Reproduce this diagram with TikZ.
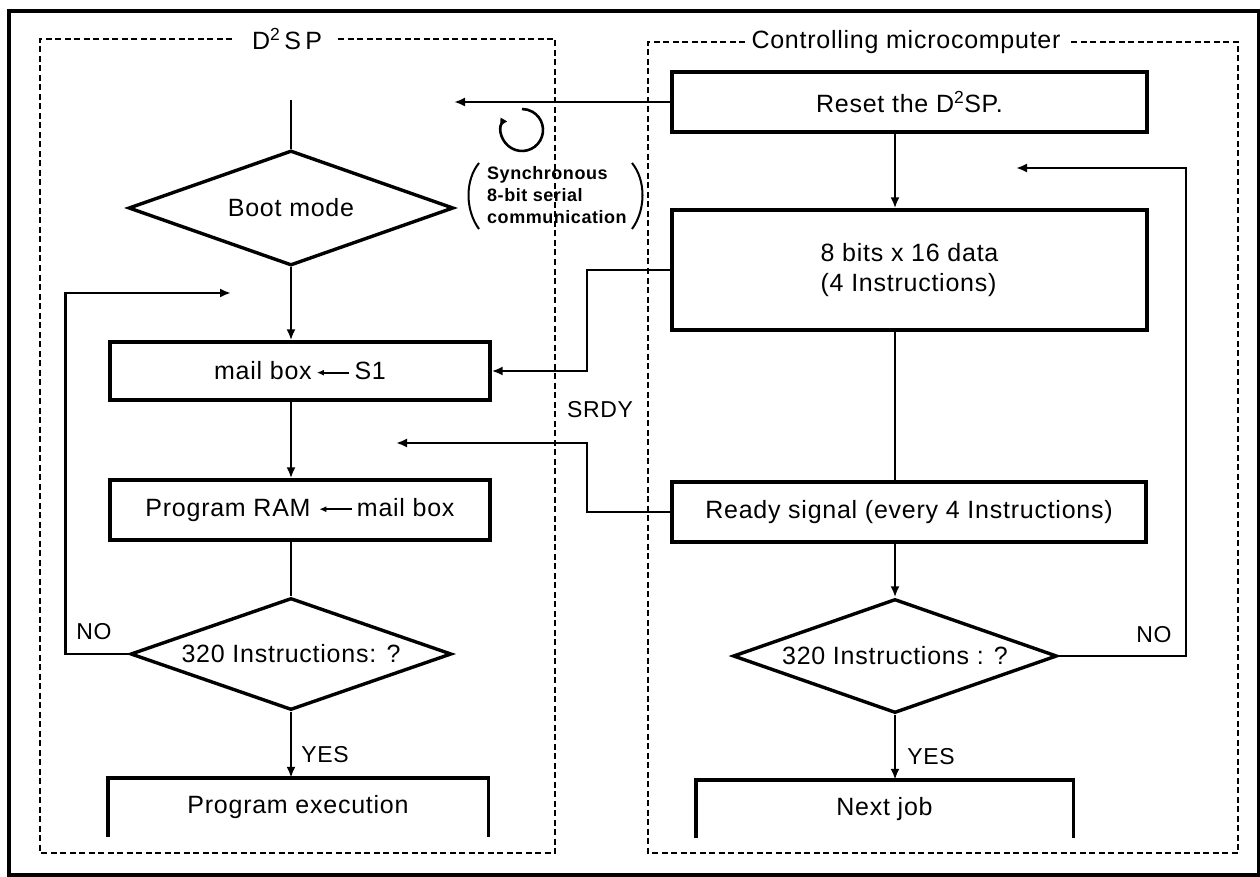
\documentclass[tikz,border=0pt]{standalone}
\usepackage{fontspec}
\setmainfont{Liberation Sans}[LetterSpace=3]
\usetikzlibrary{shapes.geometric,arrows.meta}
\newcommand{\lar}{\tikz[baseline=-0.55ex]\draw[line width=2pt,-{Latex[length=7pt,width=6pt]}] (1.3em,0)--(0,0);}
\begin{document}
\begin{tikzpicture}[x=1pt,y=1pt,font=\fontsize{25}{30}\selectfont,
  box/.style={rectangle, draw, line width=3.4pt, inner sep=0pt},
  openbox/.style={rectangle, inner sep=0pt},
  boxline/.style={line width=3.4pt},
  dia/.style={diamond, draw, line width=3.4pt, inner sep=0pt, shape aspect=2.85},
  flow/.style={line width=2.8pt},
  arr/.style={flow, -{Latex[length=11pt,width=9pt]}},
  region/.style={line width=2.2pt, dash pattern=on 6pt off 3.5pt},
  lab/.style={font=\fontsize{23}{26}\selectfont, inner sep=0pt},
  small/.style={font=\bfseries\fontsize{18}{22}\selectfont, inner sep=0pt, align=left}]
\path[use as bounding box] (0,0) rectangle (1260,-877);
% outer frame
\draw[line width=4pt] (9,-11) rectangle (1259,-875);
% regions
\draw[region] (232,-39) -- (40,-39) -- (40,-853) -- (555,-853) -- (555,-39) -- (338,-39);
\node[inner sep=0pt] (ttlL) at (287,-39) {D\textsuperscript{2}\,S\,P};
\draw[region] (745,-42) -- (648,-42) -- (648,-853) -- (1238,-853) -- (1238,-42) -- (1068,-42);
\node[inner sep=0pt] (ttlR) at (906,-42) {Controlling microcomputer};
% left flow
\coordinate (start) at (291,-100);
\node[dia, minimum width=325pt, minimum height=115pt] (boot) at (291,-208) {Boot mode};
\node[box, minimum width=380pt, minimum height=58pt] (mailbox) at (300,-371) {mail box\,\lar\,S1};
\node[box, minimum width=380pt, minimum height=60pt] (pram) at (300,-510) {Program RAM \lar\,mail box};
\node[dia, minimum width=321pt, minimum height=112pt] (ldiam) at (291,-654) {320 Instructions: ?};
\node[openbox, minimum width=380pt, minimum height=59pt] (pexec) at (298,-807.5) {Program execution};
\draw[boxline] (pexec.south west) -- (pexec.north west) -- (pexec.north east) -- (pexec.south east);
\coordinate (lret) at (231,-293);
\draw[flow] (start) -- (boot.north);
\draw[arr] (boot.south) -- (boot.south |- mailbox.north);
\draw[arr] (boot.south |- mailbox.south) -- (boot.south |- pram.north);
\draw[flow] (ldiam.north |- pram.south) -- (ldiam.north);
\draw[arr] (ldiam.south) -- (ldiam.south |- pexec.north);
\draw[arr] (ldiam.west) -- ++(-63,0) |- (lret);
\node[lab] (noL) at (94,-632) {NO};
\node[lab] (yesL) at (325,-755) {YES};
% right flow
\node[box, minimum width=475pt, minimum height=60pt] (reset) at (909.5,-102) {Reset the D\textsuperscript{2}SP.};
\node[box, minimum width=475pt, minimum height=120pt, align=left] (data) at (909.5,-270) {8 bits x 16 data\\(4 Instructions)};
\node[box, minimum width=474pt, minimum height=60pt] (ready) at (909,-512) {Ready signal (every 4 Instructions)};
\node[dia, minimum width=324pt, minimum height=114pt] (rdiam) at (895,-656) {320 Instructions : ?};
\node[openbox, minimum width=377pt, minimum height=58pt] (next) at (884.5,-809) {Next job};
\draw[boxline] (next.south west) -- (next.north west) -- (next.north east) -- (next.south east);
\coordinate (rret) at (1016,-168);
\draw[arr] (reset.south -| rdiam.north) -- (data.north -| rdiam.north);
\draw[flow] (data.south -| rdiam.north) -- (ready.north -| rdiam.north);
\draw[arr] (ready.south -| rdiam.north) -- (rdiam.north);
\draw[arr] (rdiam.south) -- (rdiam.south |- next.north);
\draw[arr] (rdiam.east) -- (1186,-656) |- (rret);
\node[lab] (noR) at (1154,-635) {NO};
\node[lab] (yesR) at (931,-757) {YES};
% cross connections
\coordinate (resetend) at (454,-102);
\draw[arr] (reset.west) -- (resetend);
\draw[arr] (data.west) -- (587,-270) |- (mailbox.east);
\coordinate (srdyend) at (396,-443);
\draw[arr] (ready.west) -- (587,-512) |- (srdyend);
\node[lab] (srdy) at (600,-410) {SRDY};
% serial communication note
\draw[line width=2.6pt, {Latex[reversed,length=9pt,width=8pt]}-] (522,-130) ++(150:21) arc[start angle=150, end angle=450, radius=21];
\node[small, anchor=west] (sync) at (487,-195) {Synchronous\\8-bit serial\\communication};
\draw[line width=2pt] (479,-163) .. controls (465,-180) and (465,-210) .. (479,-229);
\draw[line width=2pt] (632,-163) .. controls (646,-180) and (646,-210) .. (632,-229);
\end{tikzpicture}
\end{document}
